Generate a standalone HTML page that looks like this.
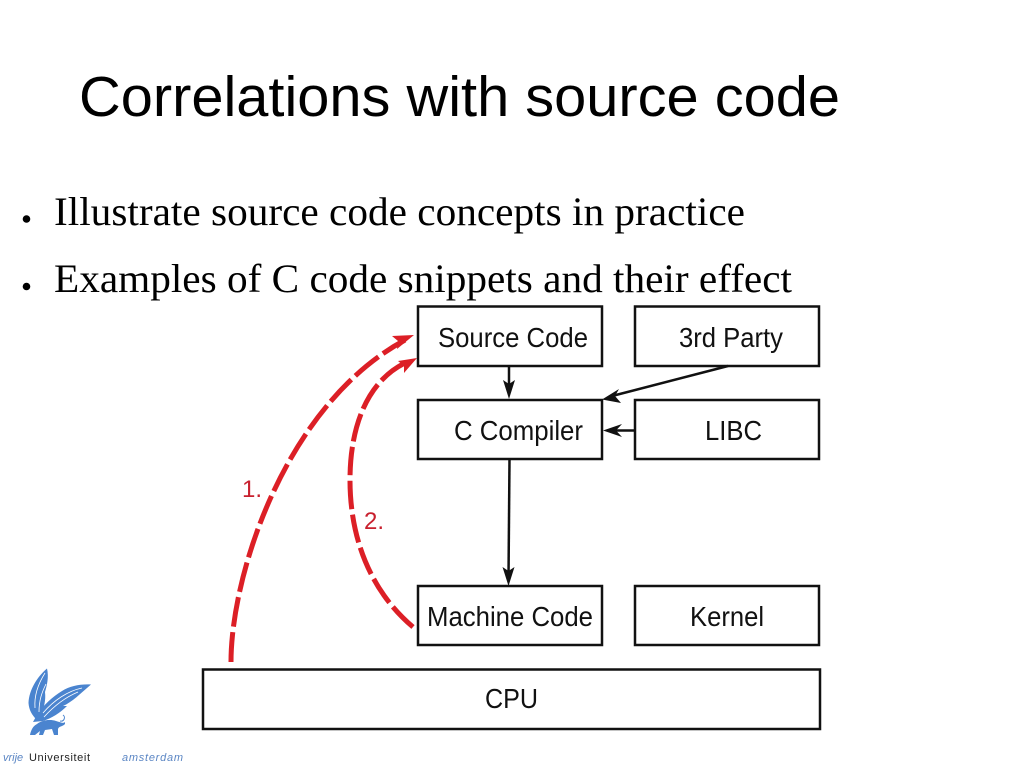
<!DOCTYPE html>
<html>
<head>
<meta charset="utf-8">
<style>
html,body{margin:0;padding:0;background:#fff;width:1023px;height:767px;overflow:hidden}
svg{display:block}
.d{font-family:"Liberation Sans",sans-serif;font-size:28px;fill:#111}
.s{font-family:"Liberation Serif",serif;font-size:40px;fill:#000}
</style>
</head>
<body>
<svg width="1023" height="767" viewBox="0 0 1023 767" xmlns="http://www.w3.org/2000/svg">
<rect width="1023" height="767" fill="#fff"/>
<text x="79" y="116" font-family="Liberation Sans,sans-serif" font-size="57" fill="#000" textLength="761" lengthAdjust="spacingAndGlyphs">Correlations with source code</text>
<circle cx="26.500" cy="219" r="3.800" fill="#000"/>
<circle cx="26.500" cy="286.500" r="3.800" fill="#000"/>
<text class="s" x="54" y="225" textLength="691" lengthAdjust="spacingAndGlyphs">Illustrate source code concepts in practice</text>
<text class="s" x="54" y="292" textLength="738" lengthAdjust="spacingAndGlyphs">Examples of C code snippets and their effect</text>

<g fill="#fff" stroke="#111" stroke-width="2.500">
<rect x="418" y="306.500" width="184" height="59.500"/>
<rect x="635" y="306.500" width="184" height="59.500"/>
<rect x="418" y="400" width="184" height="59"/>
<rect x="635" y="400" width="184" height="59"/>
<rect x="418" y="586" width="184" height="59"/>
<rect x="635" y="586" width="184" height="59"/>
<rect x="203" y="669.500" width="617" height="59.500"/>
</g>
<text class="d" x="438" y="347" textLength="150" lengthAdjust="spacingAndGlyphs">Source Code</text>
<text class="d" x="679" y="347" textLength="104" lengthAdjust="spacingAndGlyphs">3rd Party</text>
<text class="d" x="454" y="440" textLength="129" lengthAdjust="spacingAndGlyphs">C Compiler</text>
<text class="d" x="705" y="440" textLength="57" lengthAdjust="spacingAndGlyphs">LIBC</text>
<text class="d" x="427" y="626" textLength="166" lengthAdjust="spacingAndGlyphs">Machine Code</text>
<text class="d" x="690" y="626" textLength="74" lengthAdjust="spacingAndGlyphs">Kernel</text>
<text class="d" x="485" y="708" textLength="53" lengthAdjust="spacingAndGlyphs">CPU</text>

<g stroke="#111" stroke-width="2.500" fill="none">
<line x1="509" y1="366" x2="509" y2="392"/>
<line x1="728" y1="366" x2="612" y2="396"/>
<line x1="635" y1="430.500" x2="610" y2="430.500"/>
<line x1="509.500" y1="459" x2="508.500" y2="578"/>
</g>
<g fill="#111">
<polygon points="509,399 503,380 509,384 515,380"/>
<polygon points="602,399.500 619,389 615,396 621,403"/>
<polygon points="603,430.500 622,424 616,430.500 622,437"/>
<polygon points="508.500,586 502.500,567 508.500,571 514.500,567"/>
</g>

<g fill="none" stroke="#dc1f26" stroke-width="5">
<path d="M231 662 C231 575 285 405 405 340" stroke-dasharray="30 5.500"/>
<path d="M413 627 C375 595 350 545 350 480 C350 425 368 380 407 362" stroke-dasharray="28.500 5.500"/>
</g>
<polygon points="414,335 392,336 398,341 397,349" fill="#dc1f26"/>
<polygon points="417,358 398,361 404,366 404,373" fill="#dc1f26"/>
<text x="242" y="497" font-family="Liberation Sans,sans-serif" font-size="24" fill="#c8202e">1.</text>
<text x="364" y="529" font-family="Liberation Sans,sans-serif" font-size="24" fill="#c8202e">2.</text>

<g fill="#4a84cf">
<path d="M47 668.500 C37 677 29 690 28.500 703 C29 710 32 715 36 719 L41 715 C44 708 46 700 45 692 C47 685 49 677 47 668.500 Z"/>
<path d="M91 684.500 C80 684 70 686 62 691 C52 697 44 705 38 713 L33 722 L43 721 C52 718 60 713 67 706 L63 706 C72 702 80 694 91 684.500 Z"/>
<path d="M30 735 C31 730 33 726 37 724 C42 720 50 719 56 721 C60 722 63 724 65 722 L65 724 C62 727 59 726 58 729 L58 735 L54 735 L52 729 L45 730 L43 735 L39 735 L40 731 L35 735 Z"/>
</g>
<g fill="none" stroke="#fff" stroke-width="0.800">
<path d="M45 673 C38 684 34 695 35 708"/>
<path d="M46 684 C42 692 39 700 39 712"/>
<path d="M82 688 C68 691 54 700 43 713"/>
<path d="M78 692 C66 697 54 706 44 717"/>
</g>
<path d="M60 721 C64 722 66 717 63 715" fill="none" stroke="#4a84cf" stroke-width="1"/>
<text x="3" y="761" font-family="Liberation Sans,sans-serif" font-size="11" font-style="italic" fill="#5b86c4">vrije</text>
<text x="29" y="761" font-family="Liberation Sans,sans-serif" font-size="11" fill="#222" textLength="61">Universiteit</text>
<text x="122" y="761" font-family="Liberation Sans,sans-serif" font-size="11" font-style="italic" fill="#5b86c4" textLength="61">amsterdam</text>
</svg>
</body>
</html>
